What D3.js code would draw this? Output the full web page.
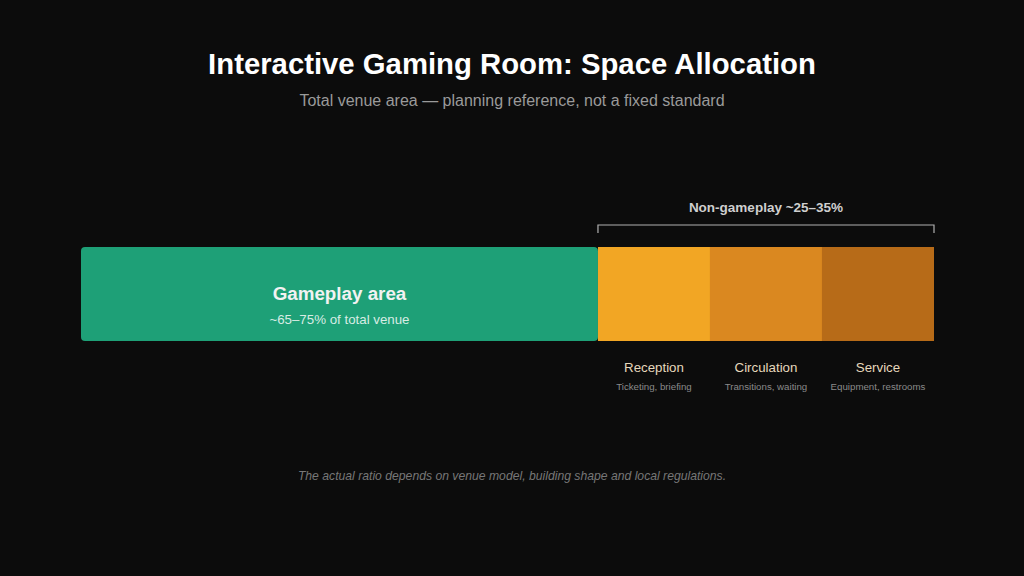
<!DOCTYPE html>
<html><head><meta charset="utf-8">
<script src="https://cdn.jsdelivr.net/npm/d3@7"></script>
<style>html,body{margin:0;padding:0;background:#0c0c0c;}svg{display:block;font-family:"Liberation Sans",Arial,sans-serif;}</style>
</head><body>
<svg id="c" width="1024" height="576"></svg>
<script>
const categories = ["Gameplay area","Reception","Circulation","Service"];
const values = [60.6, 13.13, 13.13, 13.13];
const sublabels = ["~65–75% of total venue","Ticketing, briefing","Transitions, waiting","Equipment, restrooms"];
const colors = ["#1ea077","#f2a624","#da8820","#b76b18"];
const title = "Interactive Gaming Room: Space Allocation";
const subtitle = "Total venue area — planning reference, not a fixed standard";
const groupLabel = "Non-gameplay ~25–35%";
const footnote = "The actual ratio depends on venue model, building shape and local regulations.";

const svg = d3.select("#c");
svg.append("rect").attr("width",1024).attr("height",576).attr("fill","#0c0c0c");

const total = d3.sum(values);
const x = d3.scaleLinear().domain([0,total]).range([81,934]);
const starts = d3.cumsum([0,...values]);
const data = categories.map((c,i)=>({c,v:values[i],s:starts[i],e:starts[i]+values[i],sub:sublabels[i],col:colors[i]}));
const y0 = 247, h = 94;

svg.append("text").attr("x",512).attr("y",74).attr("text-anchor","middle")
  .attr("fill","#ffffff").attr("font-size",29.3).attr("font-weight","bold").text(title);
svg.append("text").attr("x",512).attr("y",106).attr("text-anchor","middle")
  .attr("fill","#9a9a9a").attr("font-size",16).text(subtitle);

const g = svg.append("g");
data.forEach((d,i)=>{
  g.append("rect").attr("x",x(d.s)).attr("y",y0).attr("width",x(d.e)-x(d.s)).attr("height",h)
    .attr("rx",i===0?4:0).attr("fill",d.col);
});

const gp = data[0];
const gcx = (x(gp.s)+x(gp.e))/2;
svg.append("text").attr("x",gcx).attr("y",300).attr("text-anchor","middle")
  .attr("fill","#f2f2f2").attr("font-size",18.8).attr("font-weight","bold").text(gp.c);
svg.append("text").attr("x",gcx).attr("y",324).attr("text-anchor","middle")
  .attr("fill","#d8ece4").attr("font-size",13.3).text(gp.sub);

data.slice(1).forEach(d=>{
  const cx = (x(d.s)+x(d.e))/2;
  svg.append("text").attr("x",cx).attr("y",372).attr("text-anchor","middle")
    .attr("fill","#e6d8bc").attr("font-size",13.3).text(d.c);
  svg.append("text").attr("x",cx).attr("y",390).attr("text-anchor","middle")
    .attr("fill","#8a8a8a").attr("font-size",9.7).text(d.sub);
});

const bx0 = x(data[1].s), bx1 = x(data[3].e);
svg.append("path").attr("d",`M${bx0},233V225H${bx1}V233`).attr("fill","none")
  .attr("stroke","#b0b0b0").attr("stroke-width",1.2);
svg.append("text").attr("x",(bx0+bx1)/2).attr("y",212).attr("text-anchor","middle")
  .attr("fill","#cfcfcf").attr("font-size",13.5).attr("font-weight","bold").text(groupLabel);

svg.append("text").attr("x",512).attr("y",480).attr("text-anchor","middle")
  .attr("fill","#777777").attr("font-size",12.2).attr("font-style","italic").text(footnote);
</script>
</body></html>
